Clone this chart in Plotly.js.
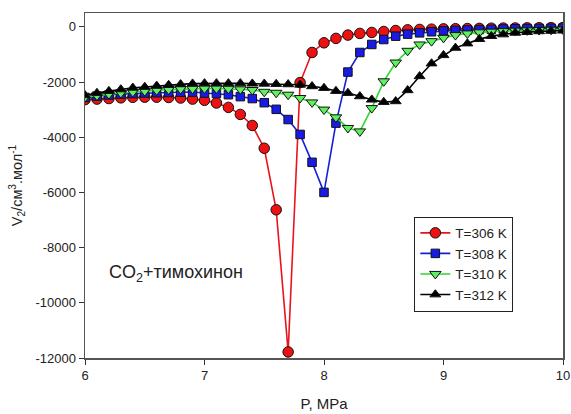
<!DOCTYPE html>
<html><head><meta charset="utf-8">
<script src="https://cdn.plot.ly/plotly-3.0.1.min.js"></script>
<style>body{margin:0;background:#fff}#c{width:571px;height:414px}</style>
</head><body><div id="c"></div>
<script>
const P = [6.0,6.1,6.2,6.3,6.4,6.5,6.6,6.7,6.8,6.9,7.0,7.1,7.2,7.3,7.4,7.5,7.6,7.7,7.8,7.9,8.0,8.1,8.2,8.3,8.4,8.5,8.6,8.7,8.8,8.9,9.0,9.1,9.2,9.3,9.4,9.5,9.6,9.7,9.8,9.9,10.0];
const T306 = [-2640,-2620,-2600,-2575,-2555,-2550,-2550,-2560,-2580,-2620,-2665,-2760,-2920,-3175,-3575,-4400,-6630,-11780,-2020,-930,-580,-420,-300,-240,-205,-170,-135,-110,-95,-85,-75,-68,-62,-56,-50,-46,-42,-38,-34,-30,-27];
const T308 = [-2560,-2510,-2470,-2440,-2420,-2400,-2390,-2380,-2370,-2365,-2400,-2420,-2460,-2530,-2600,-2750,-2990,-3360,-3900,-4910,-6000,-3490,-1640,-930,-640,-460,-340,-265,-218,-180,-150,-130,-115,-100,-90,-80,-72,-65,-58,-52,-48];
const T310 = [-2550,-2490,-2440,-2400,-2360,-2330,-2300,-2275,-2255,-2245,-2235,-2235,-2245,-2265,-2290,-2355,-2390,-2460,-2580,-2740,-3000,-3280,-3665,-3790,-2945,-1975,-1295,-870,-640,-520,-400,-300,-240,-200,-175,-155,-140,-128,-118,-108,-100];
const T312 = [-2480,-2400,-2330,-2270,-2210,-2180,-2140,-2110,-2085,-2060,-2050,-2050,-2050,-2050,-2060,-2065,-2075,-2085,-2100,-2156,-2218,-2327,-2400,-2520,-2640,-2727,-2700,-2300,-1793,-1330,-1030,-763,-605,-447,-338,-277,-218,-193,-165,-150,-140];
const names = ["T=306 K","T=308 K","T=310 K","T=312 K"];
const xTicks = [6,7,8,9,10];
const yTicks = [0,-2000,-4000,-6000,-8000,-10000,-12000];
const yTickText = ["0","-2000","-4000","-6000","-8000","-10000","-12000"];

const series = [T306,T308,T310,T312];
const lineCol = ["#e8141c","#1420d8","#2ed62e","#000000"];
const fillCol = ["#ee1111","#1a1ae6","#5ef05e","#000000"];
const syms = ["circle","square","triangle-down","triangle-up"];
const sizes = [10.5,8.5,10,9.5];
const traces = series.map((s,i)=>({
  x:P, y:s, name:names[i], type:"scatter", mode:"lines+markers",
  line:{color:lineCol[i], width:1.6},
  marker:{symbol:syms[i], size:sizes[i], color:fillCol[i], line:{color:"#111", width:1}}
}));

const layout = {
  width:571, height:414,
  margin:{l:85, r:8, t:13, b:56},
  paper_bgcolor:"#fff", plot_bgcolor:"#fff",
  font:{family:"Liberation Sans, Arial, sans-serif", size:13, color:"#222"},
  showlegend:true,
  legend:{x:0.689, y:0.41, xanchor:"left", yanchor:"top", bordercolor:"#222", borderwidth:1,
    bgcolor:"#fff", font:{size:13.5, color:"#222"}, tracegroupgap:0, itemwidth:30},
  xaxis:{range:[6,10], tickvals:xTicks, ticks:"outside", ticklen:5, tickcolor:"#333",
    showline:true, linecolor:"#555", linewidth:1.5, mirror:true, showgrid:false, zeroline:false,
    tickfont:{size:13, color:"#222"},
    title:{text:"P, MPa", font:{size:15, color:"#222"}, standoff:16}},
  yaxis:{range:[-12000,500], tickvals:yTicks, ticktext:yTickText, ticks:"outside", ticklen:5, tickcolor:"#333",
    showline:true, linecolor:"#555", linewidth:1.5, mirror:true, showgrid:false, zeroline:false,
    tickfont:{size:13, color:"#222"},
    title:{text:"V<sub>2</sub>/см<sup>3</sup>.мол<sup>-1</sup>", font:{size:14.5, color:"#222"}, standoff:9}},
  annotations:[{x:6.18, y:-8950, xref:"x", yref:"y", xanchor:"left", yanchor:"middle", showarrow:false,
    text:"CO<sub>2</sub>+тимохинон", font:{size:18, color:"#222"}}]
};
Plotly.newPlot("c", traces, layout, {staticPlot:true});
</script></body></html>
